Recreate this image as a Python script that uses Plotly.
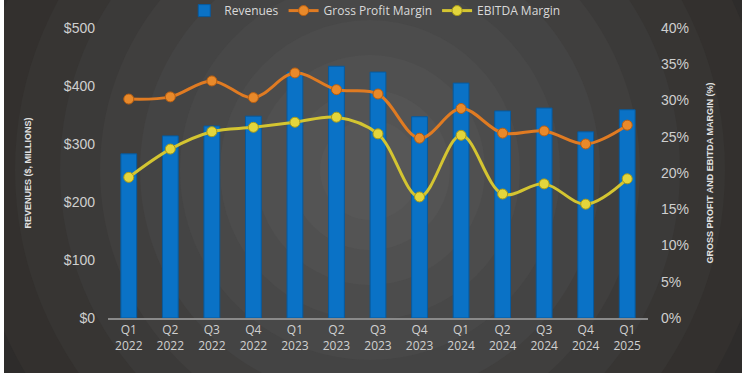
import plotly.graph_objects as go

quarters = ["Q1<br>2022", "Q2<br>2022", "Q3<br>2022", "Q4<br>2022",
            "Q1<br>2023", "Q2<br>2023", "Q3<br>2023", "Q4<br>2023",
            "Q1<br>2024", "Q2<br>2024", "Q3<br>2024", "Q4<br>2024", "Q1<br>2025"]
revenues = [283, 314, 331, 348, 424, 434, 424, 347, 405, 357, 362, 321, 359]
gross_margin = [30.2, 30.5, 32.7, 30.4, 33.8, 31.5, 30.9, 24.8, 28.9, 25.5, 25.8, 24.0, 26.6]
ebitda_margin = [19.4, 23.3, 25.7, 26.3, 27.0, 27.7, 25.4, 16.7, 25.2, 17.1, 18.5, 15.7, 19.2]

left_ticks = [0, 100, 200, 300, 400, 500]
left_ticktext = ["$0", "$100", "$200", "$300", "$400", "$500"]
right_ticks = [0, 5, 10, 15, 20, 25, 30, 35, 40]
right_ticktext = ["0%", "5%", "10%", "15%", "20%", "25%", "30%", "35%", "40%"]

W, H = 750, 375
ML, MR, MT, MB = 108, 102, 28, 57
PW, PH = W - ML - MR, H - MT - MB

def px_x(x):
    return (x - ML) / PW

def px_y(y):
    return (H - MB - y) / PH

fig = go.Figure()

fig.add_trace(go.Bar(
    x=quarters, y=revenues, name="Revenues",
    marker=dict(color="#0a72c6", line=dict(color="#075a9e", width=1)),
    width=0.38, yaxis="y"))
fig.add_trace(go.Scatter(
    x=quarters, y=gross_margin, name="Gross Profit Margin", yaxis="y2",
    mode="lines+markers", line=dict(color="#e07b22", width=3, shape="spline"),
    marker=dict(size=10, color="#e8892a", line=dict(color="#b85e10", width=1))))
fig.add_trace(go.Scatter(
    x=quarters, y=ebitda_margin, name="EBITDA Margin", yaxis="y2",
    mode="lines+markers", line=dict(color="#d4c531", width=3, shape="spline"),
    marker=dict(size=10, color="#e3d53c", line=dict(color="#a89a18", width=1))))

shapes = []
shapes.append(dict(type="rect", xref="paper", yref="paper", layer="below",
                   x0=px_x(4), x1=px_x(742), y0=px_y(373), y1=px_y(0),
                   fillcolor="#222222", line=dict(width=0)))
cx, cy = 370, 170
ring_colors = ["#262626", "#2a2a2a", "#2e2c2b", "#33302e", "#373533", "#3b3a39",
               "#403f3e", "#444444", "#484848", "#4c4c4c", "#505050", "#545454", "#575757"]
radii = [560, 500, 450, 400, 355, 310, 270, 230, 190, 150, 115, 80, 50]
for r, c in zip(radii, ring_colors):
    shapes.append(dict(type="circle", xref="paper", yref="paper", layer="below",
                       x0=px_x(cx - r), x1=px_x(cx + r),
                       y0=px_y(cy + r), y1=px_y(cy - r),
                       fillcolor=c, line=dict(width=0)))
for (a, b, c2, d) in [(-10, 4, -10, 400), (742, 800, -10, 400), (-10, 800, 373, 400)]:
    shapes.append(dict(type="rect", xref="paper", yref="paper", layer="below",
                       x0=px_x(a), x1=px_x(b), y0=px_y(d), y1=px_y(c2),
                       fillcolor="#ffffff", line=dict(width=0)))

fig.update_layout(
    width=W, height=H,
    margin=dict(l=ML, r=MR, t=MT, b=MB, autoexpand=False),
    paper_bgcolor="#ffffff", plot_bgcolor="rgba(0,0,0,0)",
    shapes=shapes,
    font=dict(family="Liberation Sans, Arial", color="#d0d0d0"),
    legend=dict(orientation="h", x=0.494, xanchor="center", y=1.11, yanchor="top",
                font=dict(family="Open Sans", size=12, color="#d9d9d9"),
                bgcolor="rgba(0,0,0,0)", itemwidth=30, tracegroupgap=0),
    xaxis=dict(showgrid=False, showline=True, linecolor="#8a8a8a", linewidth=1.5,
               range=[-0.5, len(quarters) - 0.5],
               tickfont=dict(family="Open Sans", size=12, color="#d0d0d0"),
               ticks="", fixedrange=True, automargin=False),
    yaxis=dict(range=[0, 500], tickvals=left_ticks, ticktext=left_ticktext,
               showgrid=False, zeroline=False, ticks="", automargin=False,
               ticklabelstandoff=12,
               tickfont=dict(size=14, color="#cfcfcf"),
               title=dict(text="<b>REVENUES ($, MILLIONS)</b>", standoff=30,
                          font=dict(size=9, color="#e0e0e0"))),
    yaxis2=dict(range=[0, 40], tickvals=right_ticks, ticktext=right_ticktext,
                overlaying="y", side="right", showgrid=False, zeroline=False,
                automargin=False, ticklabelstandoff=12,
                tickfont=dict(size=14, color="#cfcfcf"),
                title=dict(text="<b>GROSS PROFIT AND EBITDA MARGIN (%)</b>", standoff=18,
                           font=dict(size=9, color="#e0e0e0"))),
)

fig.write_html("out.html", config={"displayModeBar": False},
               post_script="document.body.style.margin='0';")
